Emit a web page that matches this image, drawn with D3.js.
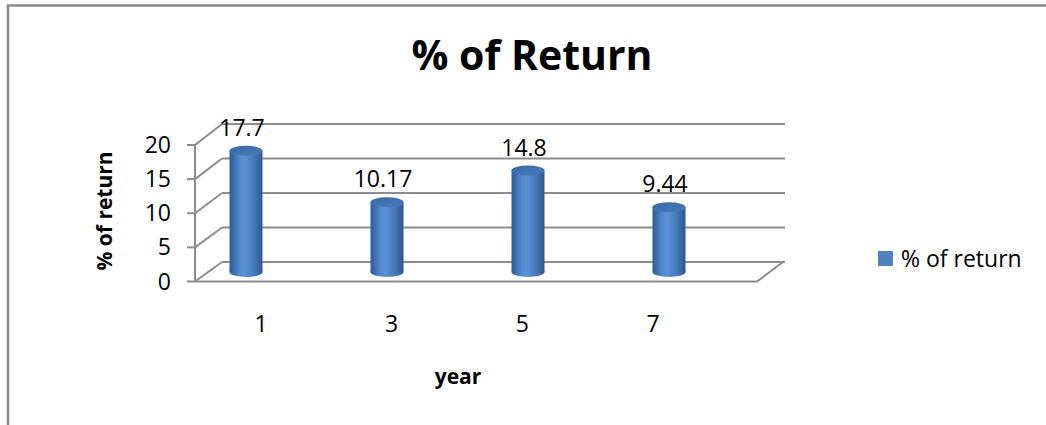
<!DOCTYPE html>
<html>
<head>
<meta charset="utf-8">
<script src="https://cdn.jsdelivr.net/npm/d3@7"></script>
<style>
  html, body { margin: 0; padding: 0; background: #fff; }
  svg { display: block; font-family: "Open Sans", "Liberation Sans", sans-serif; }
</style>
</head>
<body>
<script>
// ---- data ----
const categories = ["1", "3", "5", "7"];
const values = [17.7, 10.17, 14.8, 9.44];
const valueLabels = ["17.7", "10.17", "14.8", "9.44"];
const yTicks = [0, 5, 10, 15, 20];
const seriesName = "% of return";
const chartTitle = "% of Return";
const xTitle = "year";
const yTitle = "% of return";

const W = 1046, H = 425;
const svg = d3.select("body").append("svg").attr("width", W).attr("height", H);

// outer frame
svg.append("path")
  .attr("d", `M8,${H} L8,5.5 L${W},5.5`)
  .attr("fill", "none").attr("stroke", "#8a8a8a").attr("stroke-width", 2.5);

// scales
const yFront = d3.scaleLinear().domain([0, 20]).range([281.5, 145]);
const yBack = d3.scaleLinear().domain([0, 20]).range([262, 124]);
const yBar = d3.scaleLinear().domain([0, 20]).range([272, 135]);
const xFront = 195, xBack = 222, xBackRight = 785, xFrontRight = 757;
const xBar = d3.scalePoint().domain(categories).range([246, 669]);
const xLab = d3.scalePoint().domain(categories).range([261, 653]);
const barW = 33, ellRy = 5;

const grid = svg.append("g").attr("stroke", "#8c8c8c").attr("stroke-width", 2).attr("fill", "none");
// back wall gridlines + side-wall diagonals
yTicks.forEach(v => {
  grid.append("line").attr("x1", xBack).attr("x2", xBackRight).attr("y1", yBack(v)).attr("y2", yBack(v));
  grid.append("line").attr("x1", xFront).attr("x2", xBack).attr("y1", yFront(v)).attr("y2", yBack(v));
  grid.append("line").attr("x1", xFront - 8).attr("x2", xFront).attr("y1", yFront(v)).attr("y2", yFront(v));
});
// front vertical axis
grid.append("line").attr("x1", xFront).attr("x2", xFront).attr("y1", yFront(20)).attr("y2", yFront(0));
// floor front and right edges
grid.append("path").attr("d", `M${xFront},${yFront(0)} L${xFrontRight},${yFront(0)} L${xBackRight - 2},${yBack(0)}`);

// gradients
const defs = svg.append("defs");
const g1 = defs.append("linearGradient").attr("id", "body").attr("x1", "0").attr("x2", "1").attr("y1", "0").attr("y2", "0");
[[0, "#2d5b95"], [0.3, "#5189cf"], [0.45, "#5b92d8"], [0.75, "#4677b8"], [1, "#2c5890"]]
  .forEach(([o, c]) => g1.append("stop").attr("offset", o).attr("stop-color", c));
const g2 = defs.append("linearGradient").attr("id", "top").attr("x1", "0").attr("x2", "1").attr("y1", "0").attr("y2", "1");
[[0, "#3a68a6"], [1, "#4a7bbb"]].forEach(([o, c]) => g2.append("stop").attr("offset", o).attr("stop-color", c));

// bars (cylinders)
const bars = svg.append("g");
categories.forEach((c, i) => {
  const cx = xBar(c), yt = yBar(values[i]), yb = yBar(0);
  const g = bars.append("g");
  g.append("ellipse").attr("cx", cx).attr("cy", yb).attr("rx", barW / 2).attr("ry", ellRy).attr("fill", "url(#body)");
  g.append("rect").attr("x", cx - barW / 2).attr("y", yt).attr("width", barW).attr("height", yb - yt).attr("fill", "url(#body)");
  g.append("ellipse").attr("cx", cx).attr("cy", yt).attr("rx", barW / 2).attr("ry", ellRy).attr("fill", "url(#top)");
  // value label
  svg.append("text").attr("x", cx - 4).attr("y", yt - 15).attr("text-anchor", "middle")
    .attr("font-size", 23).attr("fill", "#000").text(valueLabels[i]);
});

// y tick labels
yTicks.forEach(v => {
  svg.append("text").attr("x", 171).attr("y", yFront(v) + 8).attr("text-anchor", "end")
    .attr("font-size", 23).attr("fill", "#000").text(v);
});
// x category labels
categories.forEach(c => {
  svg.append("text").attr("x", xLab(c)).attr("y", 332).attr("text-anchor", "middle")
    .attr("font-size", 23).attr("fill", "#000").text(c);
});

// titles
svg.append("text").attr("x", 532).attr("y", 70).attr("text-anchor", "middle")
  .attr("font-size", 41).attr("font-weight", "bold").attr("fill", "#000").text(chartTitle);
svg.append("text").attr("x", 458).attr("y", 384).attr("text-anchor", "middle")
  .attr("font-size", 21).attr("font-weight", "bold").attr("fill", "#000").text(xTitle);
svg.append("text").attr("transform", "translate(112,211) rotate(-90)").attr("text-anchor", "middle")
  .attr("font-size", 21).attr("font-weight", "bold").attr("fill", "#000").text(yTitle);

// legend
svg.append("rect").attr("x", 878).attr("y", 251).attr("width", 15).attr("height", 15).attr("fill", "#4f81bd");
svg.append("text").attr("x", 901).attr("y", 267).attr("font-size", 23).attr("fill", "#000").text(seriesName);
</script>
</body>
</html>
